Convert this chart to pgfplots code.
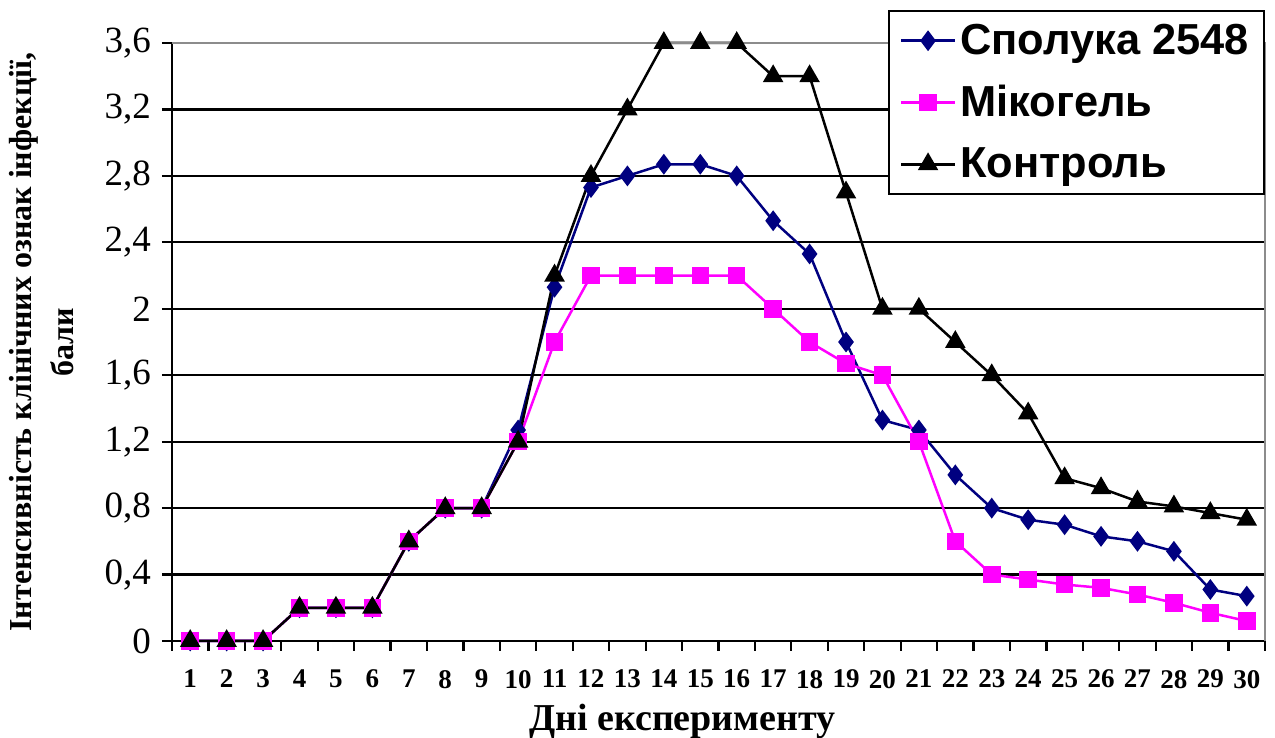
\documentclass[border=0pt]{standalone}
\usepackage{fontspec}
\setmainfont{Liberation Serif}
\newfontfamily\arialfont{Liberation Sans}
\usepackage{pgfplots}
\pgfplotsset{compat=1.18}
\definecolor{navy}{RGB}{0,0,128}
\definecolor{mag}{RGB}{255,0,255}
\begin{document}
\begin{tikzpicture}
\useasboundingbox (-86pt,-48.5pt) rectangle (551.5pt,320.5pt);
\begin{axis}[
  at={(0,0)}, anchor=south west,
  scale only axis, width=546.5pt, height=299pt,
  xmin=0.5, xmax=30.5, ymin=0, ymax=3.6,
  axis lines*=left,
  axis line style={black, line width=1.1pt, -},
  xtick={1,...,30},
  minor xtick={0.5,1.5,...,30.5},
  ytick={0,0.4,0.8,1.2,1.6,2,2.4,2.8,3.2,3.6},
  tick align=outside,
  major tick length=5pt, minor tick length=5pt,
  major x tick style={draw=none},
  minor x tick style={black, line width=1.1pt},
  major y tick style={black, line width=1.1pt},
  ymajorgrids,
  major grid style={black, line width=1.1pt},
  /pgf/number format/use comma,
  /pgf/number format/assume math mode=true,
  yticklabel style={font=\fontsize{18.5}{22}\selectfont, xshift=-2pt},
  xticklabel style={font=\bfseries\fontsize{13.5}{16}\selectfont, yshift=-6pt},
  xlabel={Дні експерименту},
  xlabel style={at={(axis description cs:0.467,-0.135)}, anchor=center, font=\bfseries\fontsize{19}{22}\selectfont},
  ylabel={Інтенсивність клінічних ознак інфекції,\\бали},
  ylabel style={at={(axis description cs:-0.083,0.5)}, anchor=south, align=center, font=\bfseries\fontsize{16}{21}\selectfont},
  legend style={at={(1,1)}, anchor=north east, yshift=16.5pt, draw=black, line width=1.1pt, fill=white,
    font=\arialfont\bfseries\fontsize{21.7}{25}\selectfont, row sep=10pt, inner xsep=5.5pt, inner ysep=4.5pt},
  legend cell align=left,
  legend image code/.code={\draw[mark repeat=2,mark phase=2] plot coordinates {(0pt,0pt) (13.5pt,0pt) (27pt,0pt)};},
  clip=false,
]
\addplot[navy, line width=1.25pt, mark=diamond*, mark size=4.2pt, mark options={fill=navy, draw=navy, solid}] coordinates {
(1,0) (2,0) (3,0) (4,0.2) (5,0.2) (6,0.2) (7,0.6) (8,0.8) (9,0.8) (10,1.27)
(11,2.13) (12,2.73) (13,2.8) (14,2.87) (15,2.87) (16,2.8) (17,2.53) (18,2.33) (19,1.8) (20,1.33)
(21,1.27) (22,1.0) (23,0.8) (24,0.73) (25,0.7) (26,0.63) (27,0.6) (28,0.54) (29,0.31) (30,0.27)};
\addlegendentry{Сполука 2548}
\addplot[mag, line width=1.25pt, mark=square*, mark size=3.75pt, mark options={fill=mag, draw=mag, solid}] coordinates {
(1,0) (2,0) (3,0) (4,0.2) (5,0.2) (6,0.2) (7,0.6) (8,0.8) (9,0.8) (10,1.2)
(11,1.8) (12,2.2) (13,2.2) (14,2.2) (15,2.2) (16,2.2) (17,2.0) (18,1.8) (19,1.67) (20,1.6)
(21,1.2) (22,0.6) (23,0.4) (24,0.37) (25,0.34) (26,0.32) (27,0.28) (28,0.23) (29,0.17) (30,0.12)};
\addlegendentry{Мікогель}
\addplot[black, line width=1.25pt, mark=triangle*, mark size=4.7pt, mark options={fill=black, draw=black, solid}] coordinates {
(1,0) (2,0) (3,0) (4,0.2) (5,0.2) (6,0.2) (7,0.6) (8,0.8) (9,0.8) (10,1.2)
(11,2.2) (12,2.8) (13,3.2) (14,3.6) (15,3.6) (16,3.6) (17,3.4) (18,3.4) (19,2.7) (20,2.0)
(21,2.0) (22,1.8) (23,1.6) (24,1.37) (25,0.98) (26,0.92) (27,0.84) (28,0.81) (29,0.77) (30,0.73)};
\addlegendentry{Контроль}
\draw[gray!90, line width=1.1pt] (rel axis cs:0,1) -- (rel axis cs:1,1) -- (rel axis cs:1,0);
\end{axis}
\end{tikzpicture}
\end{document}
